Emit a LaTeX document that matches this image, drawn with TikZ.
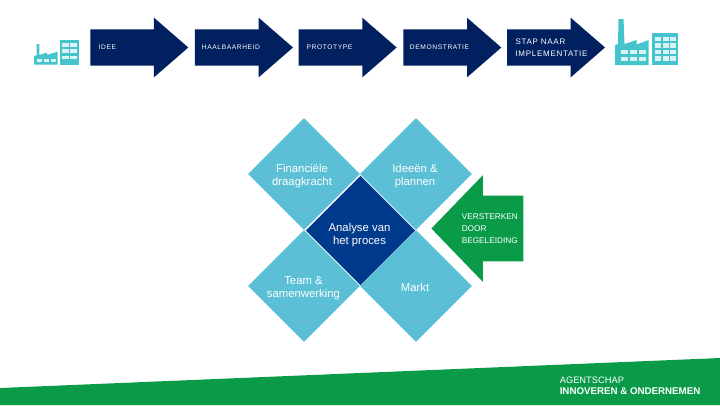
\documentclass[tikz,border=0pt]{standalone}
\usepackage{fontspec}
\setmainfont{Liberation Sans}
\newfontfamily\widefont[LetterSpace=9]{Liberation Sans}
\usetikzlibrary{positioning, shapes.geometric, shapes.arrows}
\definecolor{navy}{HTML}{002060}
\definecolor{deepblue}{HTML}{003A8C}
\definecolor{aqua}{HTML}{5BC0D5}
\definecolor{teal}{HTML}{45C4CE}
\definecolor{leaf}{HTML}{0A9B48}

\begin{document}
\begin{tikzpicture}[x=0.75pt, y=-0.75pt,
    step arrow/.style={shape=single arrow, fill=navy, inner xsep=0pt, inner ysep=13.35pt, minimum height=73.5pt, single arrow head extend=8.8pt, single arrow tip angle=82},
    step label/.style={anchor=west, text=white, align=left, inner sep=0pt, font=\widefont\fontsize{5}{7}\selectfont},
    petal/.style={shape=diamond, fill=aqua, inner sep=0pt, minimum width=84pt, minimum height=84pt},
    petal label/.style={text=white, align=center, inner sep=0pt, font=\fontsize{8.5}{10}\selectfont},
    pics/factory/.style={code={
        \fill[teal] (0,47) -- (0,27) -- (3,26) -- (3.5,1) -- (8.5,1) -- (9.5,26) -- (21.7,22) -- (21.7,26.5) -- (33.7,22) -- (33.7,47) -- cycle;
        \fill[teal] (37,15) rectangle (63,47);
        \foreach \x in {5.5,14.5,23.5} {
            \fill[white!80!teal] (\x,31.5) rectangle +(7.5,4.5);
            \fill[white!80!teal] (\x,38.5) rectangle +(7.5,4.5);
        }
        \foreach \x in {40,47.5,55} \foreach \y in {18.5,25,31.5,38} {
            \fill[white!80!teal] (\x,\y) rectangle +(6.3,4.8);
        }
    }},
    pics/small factory/.style={code={
        \fill[teal] (0,24.7) -- (0,16) -- (2.7,15.2) -- (2.7,4) -- (5.3,4) -- (5.3,15) -- (13,12.5) -- (13,15) -- (23.7,11.7) -- (23.7,24.7) -- cycle;
        \fill[teal] (26,0) rectangle (45,24.7);
        \foreach \x in {3.3,10,16.7}
            \fill[white!80!teal] (\x,19) rectangle +(5,3);
        \foreach \x in {28.3,36} \foreach \y in {3.3,9.3,16}
            \fill[white!80!teal] (\x,\y) rectangle +(6.7,3.4);
    }}
]
\useasboundingbox (0,0) rectangle (720,405);

% Band
\fill[leaf] (0,388) -- (720,358) -- (720,405) -- (0,405) -- cycle;
\node[anchor=north west, inner sep=0pt, text=white, align=left, font=\fontsize{7}{8.25}\selectfont] (brand) at (559.5,377) {AGENTSCHAP\\\fontsize{7.3}{8.25}\selectfont\textbf{INNOVEREN \& ONDERNEMEN}};

% Steps
\node[step arrow, anchor=west] (a1) at (90,47.5) {};
\node[step arrow, right=4.5pt of a1] (a2) {};
\node[step arrow, right=3.75pt of a2] (a3) {};
\node[step arrow, right=4.5pt of a3] (a4) {};
\node[step arrow, right=3.75pt of a4] (a5) {};

\node[step label] (t1) at ([xshift=6.4pt]a1.west) {IDEE};
\node[step label] (t2) at ([xshift=5.25pt]a2.west) {HAALBAARHEID};
\node[step label] (t3) at ([xshift=6pt]a3.west) {PROTOTYPE};
\node[step label] (t4) at ([xshift=5pt]a4.west) {DEMONSTRATIE};
\node[step label, font=\widefont\fontsize{6}{9.2}\selectfont] (t5) at ([xshift=6.4pt]a5.west) {STAP NAAR\\IMPLEMENTATIE};

% Factories
\pic at (34,40) {small factory};
\pic at (615,18) {factory};

% Diamonds
\node[petal] (p1) at (304,174) {};
\node[petal] (p2) at (416,174) {};
\node[petal] (p3) at (304,286) {};
\node[petal] (p4) at (416,286) {};
\node[petal, fill=deepblue, minimum width=82pt, minimum height=82pt] (core) at (360.5,230.5) {};

\node[petal label] (l1) at (302,176) {Financiële\\draagkracht};
\node[petal label] (l2) at (415,176) {Ideeën \&\\plannen};
\node[petal label] (l3) at (303.5,288) {Team \&\\samenwerking};
\node[petal label] (l4) at (415,287) {Markt};
\node[petal label] (l5) at (359.5,235) {Analyse van\\het proces};

% Support
\node[shape=single arrow, shape border rotate=180, fill=leaf, inner xsep=0pt, inner ysep=24.4pt, minimum height=69pt, single arrow head extend=15.4pt, single arrow tip angle=92, anchor=tip] (s1) at (431,228.5) {};
\node[anchor=west, text=white, align=left, inner sep=0pt, font=\fontsize{6.2}{9}\selectfont] (s2) at (461.5,228.5) {VERSTERKEN\\DOOR\\BEGELEIDING};

\end{tikzpicture}
\end{document}
